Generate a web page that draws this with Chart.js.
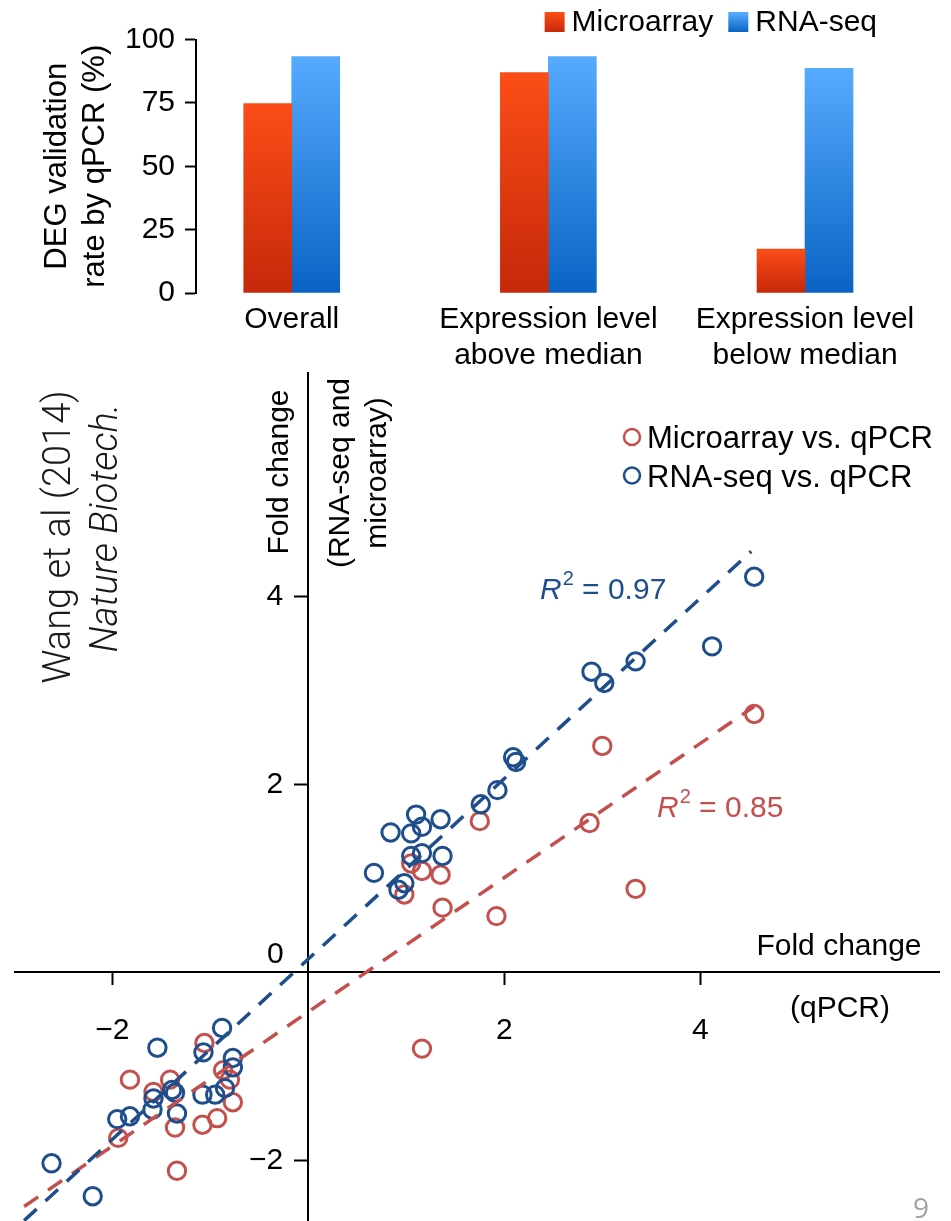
<!DOCTYPE html>
<html>
<head>
<meta charset="utf-8">
<title>DEG validation</title>
<script src="https://cdn.jsdelivr.net/npm/chart.js@4.4.1/dist/chart.umd.min.js"></script>
<style>
  html, body { margin: 0; padding: 0; background: #ffffff; }
  #wrap { position: relative; width: 951px; height: 1221px; overflow: hidden; background: #fff; }
  #wrap canvas { position: absolute; left: 0; top: 0; }
</style>
</head>
<body>
<div id="wrap">
  <canvas id="scatterChart" width="951" height="1221"></canvas>
  <canvas id="barChart" width="951" height="372"></canvas>
</div>
<script>
// ---------------- data: top bar chart ----------------
const barCategories = [['Overall'], ['Expression level', 'above median'], ['Expression level', 'below median']];
const barSeriesNames = ['Microarray', 'RNA-seq'];
const microarrayRate = [74.7, 87.0, 17.3];
const rnaSeqRate = [93.3, 93.3, 88.6];
const rateTicks = [0, 25, 50, 75, 100];

// ---------------- data: scatter ----------------
const scatterSeriesNames = ['Microarray vs. qPCR', 'RNA-seq vs. qPCR'];
const rnaSeqQpcr = [4.55, 4.12, 3.34, 2.89, 3.02, 2.09, 2.12, 1.93, 1.76, 1.35, 1.10, 1.16, 1.05, 0.84, 1.37, 1.16, 1.05, 0.67, 0.98, 0.92,
  -0.88, -1.54, -1.07, -0.77, -0.77, -1.39, -1.36, -1.58, -1.59, -1.34, -1.08, -0.95, -0.85, -1.82, -1.95, -2.62, -2.20];
const rnaSeqFold = [4.21, 3.47, 3.31, 3.20, 3.08, 2.29, 2.24, 1.94, 1.79, 1.63, 1.68, 1.55, 1.48, 1.49, 1.24, 1.27, 1.24, 1.06, 0.95, 0.88,
  -0.59, -0.80, -0.85, -0.91, -1.01, -1.25, -1.28, -1.34, -1.46, -1.50, -1.30, -1.30, -1.23, -1.53, -1.56, -2.03, -2.38];
const microarrayQpcr = [4.55, 3.00, 2.87, 3.34, 1.75, 1.92, 1.37, 1.35, 1.16, 1.05, 0.98, 1.16,
  -1.06, -1.82, -1.41, -1.58, -0.87, -0.80, -0.77, -0.93, -1.08, -1.36, -1.94, -1.34];
const microarrayFold = [2.75, 2.41, 1.59, 0.89, 1.61, 0.60, 0.69, 1.04, 1.08, 1.16, 0.83, -0.81,
  -0.75, -1.14, -1.14, -1.27, -1.04, -1.14, -1.38, -1.55, -1.62, -1.65, -1.76, -2.11];
const rnaSeqFitX = [-2.9, 4.52];
const rnaSeqFitY = [-2.64, 4.48];
const microarrayFitX = [-2.9, 4.55];
const microarrayFitY = [-2.49, 2.83];
const rSquared = [0.85, 0.97]; // microarray, RNA-seq
const foldTicksX = [-2, 2, 4];
const foldTicksY = [-2, 2, 4];

// ---------------- styles ----------------
const FONT = '"Liberation Sans", Arial, Helvetica, sans-serif';
const BLUE = '#1f4e8c';
const RED = '#c4504d';
const BAR_COLORS = [['#fc4d17', '#c5280a'], ['#56abff', '#0a63c4']];

const fmt = v => (v < 0 ? '\u2212' + Math.abs(v) : String(v));

function barGradient(pair) {
  return (c) => {
    const chart = c.chart;
    const ys = chart.scales && chart.scales.y;
    if (!ys || c.type !== 'data' || !c.parsed) return pair[1];
    const yTop = ys.getPixelForValue(c.parsed.y);
    const yBot = ys.getPixelForValue(0);
    if (!isFinite(yTop) || !isFinite(yBot) || Math.abs(yBot - yTop) < 1) return pair[1];
    const g = chart.ctx.createLinearGradient(0, yTop, 0, yBot);
    g.addColorStop(0, pair[0]);
    g.addColorStop(1, pair[1]);
    return g;
  };
}

// legend for bar chart (drawn with dataset labels)
const barLegend = {
  id: 'barLegend',
  afterDraw(chart) {
    const ctx = chart.ctx;
    ctx.save();
    ctx.font = '30px ' + FONT;
    ctx.textBaseline = 'alphabetic';
    ctx.textAlign = 'left';
    const box = 20, gapText = 7, gapItem = 15, right = 877;
    const items = chart.data.datasets.map((ds, i) => ({ label: ds.label, colors: BAR_COLORS[i], w: ctx.measureText(ds.label).width }));
    let total = 0;
    items.forEach((it, i) => { total += box + gapText + it.w + (i ? gapItem : 0); });
    let x = right - total;
    items.forEach(it => {
      const g = ctx.createLinearGradient(0, 13, 0, 32);
      g.addColorStop(0, it.colors[0]);
      g.addColorStop(1, it.colors[1]);
      ctx.fillStyle = g;
      ctx.fillRect(x, 12, box, 20);
      ctx.fillStyle = '#000';
      ctx.fillText(it.label, x + box + gapText, 31);
      x += box + gapText + it.w + gapItem;
    });
    ctx.restore();
  }
};

new Chart(document.getElementById('barChart'), {
  type: 'bar',
  data: {
    datasets: [
      { label: barSeriesNames[0], data: microarrayRate.map((v, i) => ({ x: i, y: v })), backgroundColor: barGradient(BAR_COLORS[0]) },
      { label: barSeriesNames[1], data: rnaSeqRate.map((v, i) => ({ x: i, y: v })), backgroundColor: barGradient(BAR_COLORS[1]) }
    ]
  },
  options: {
    responsive: false,
    animation: false,
    devicePixelRatio: 1,
    events: [],
    barThickness: 48,
    borderWidth: 0,
    layout: { autoPadding: false, padding: { left: 0, right: 11, top: 39.5, bottom: 0 } },
    plugins: { legend: { display: false }, tooltip: { enabled: false } },
    scales: {
      x: {
        type: 'linear',
        min: -0.373,
        max: 2.526,
        offset: false,
        afterBuildTicks: s => { s.ticks = barCategories.map((_, i) => ({ value: i })); },
        afterFit: s => { s.height = 79; },
        grid: { display: false, drawTicks: false },
        border: { display: false },
        ticks: {
          autoSkip: false, maxRotation: 0, padding: 9, color: '#000',
          font: { family: FONT, size: 30, lineHeight: 1.2 },
          callback: v => barCategories[v] || ''
        }
      },
      y: {
        min: 0,
        max: 100,
        afterBuildTicks: s => { s.ticks = rateTicks.map(v => ({ value: v })); },
        afterFit: s => { s.width = 196; },
        grid: { display: true, drawOnChartArea: false, drawTicks: true, tickLength: 11, tickWidth: 2, tickColor: '#000' },
        border: { display: true, color: '#000', width: 2 },
        ticks: { padding: 10, color: '#000', font: { family: FONT, size: 30 } },
        title: {
          display: true,
          text: ['DEG validation', 'rate by qPCR (%)'],
          color: '#000',
          font: { family: FONT, size: 31, lineHeight: 1.23 },
          padding: { top: 38, bottom: 0 }
        }
      }
    }
  },
  plugins: [barLegend]
});

// ---------------- scatter decorations ----------------
function rotText(ctx, text, cx, cy) {
  ctx.save();
  ctx.translate(cx, cy);
  ctx.rotate(-Math.PI / 2);
  ctx.fillText(text, 0, 0);
  ctx.restore();
}
function drawR2(ctx, px, py, val, color) {
  ctx.fillStyle = color;
  ctx.textAlign = 'left';
  ctx.textBaseline = 'alphabetic';
  ctx.font = 'italic 30px ' + FONT;
  ctx.fillText('R', px, py);
  const w = ctx.measureText('R').width;
  ctx.font = '20px ' + FONT;
  ctx.fillText('2', px + w + 1, py - 14);
  const w2 = ctx.measureText('2').width;
  ctx.font = '30px ' + FONT;
  ctx.fillText(' = ' + val.toFixed(2), px + w + 1 + w2, py);
}

const scatterDecor = {
  id: 'scatterDecor',
  afterDraw(chart) {
    const { ctx, scales: { x, y } } = chart;
    const ox = x.getPixelForValue(0), oy = y.getPixelForValue(0);
    ctx.save();
    ctx.fillStyle = '#000';
    ctx.font = '30px ' + FONT;

    // y tick labels (left of the vertical axis)
    ctx.textAlign = 'right';
    ctx.textBaseline = 'middle';
    y.ticks.forEach(t => ctx.fillText(fmt(t.value), ox - 25, y.getPixelForValue(t.value)));
    // zero label
    ctx.textAlign = 'center';
    ctx.textBaseline = 'alphabetic';
    ctx.fillText('0', ox - 33, oy - 9.5);

    // y axis title (straddling the axis)
    rotText(ctx, 'Fold change', ox - 20, 472);
    rotText(ctx, '(RNA-seq and', ox + 41, 473);
    rotText(ctx, 'microarray)', ox + 78, 473);

    // x axis title (straddling the axis)
    ctx.fillText('Fold change', x.right - 100, oy - 17.5);
    ctx.fillText('(qPCR)', x.right - 99, oy + 45);

    // R^2 labels
    drawR2(ctx, x.getPixelForValue(2.364), y.getPixelForValue(3.973), rSquared[1], BLUE);
    drawR2(ctx, x.getPixelForValue(3.558), y.getPixelForValue(1.654), rSquared[0], RED);

    // legend
    const legendColors = [RED, BLUE];
    ctx.font = '31px ' + FONT;
    ctx.textAlign = 'left';
    scatterSeriesNames.forEach((name, i) => {
      const cy = 437 + i * 38.5;
      ctx.beginPath();
      ctx.arc(632, cy, 8, 0, Math.PI * 2);
      ctx.lineWidth = 2.5;
      ctx.strokeStyle = legendColors[i];
      ctx.stroke();
      ctx.fillStyle = '#000';
      ctx.fillText(name, 647, cy + 11);
    });

    // citation
    ctx.fillStyle = '#1a1a1a';
    ctx.textAlign = 'center';
    ctx.font = '300 38px Roboto, "Open Sans", Lato, sans-serif';
    rotText(ctx, 'Wang et al (2014)', 70, 537);
    ctx.font = 'italic 300 38px Roboto, "Open Sans", Lato, sans-serif';
    rotText(ctx, 'Nature Biotech.', 117, 528);

    // page number
    ctx.fillStyle = '#a3a3a3';
    ctx.textAlign = 'left';
    ctx.font = '28px "Open Sans", sans-serif';
    ctx.fillText('9', 913, 1218);
    ctx.restore();
  }
};

const zeroFit = s => { s.paddingLeft = 0; s.paddingRight = 0; s.paddingTop = 0; s.paddingBottom = 0; };

new Chart(document.getElementById('scatterChart'), {
  type: 'scatter',
  data: {
    datasets: [
      { label: 'RNA-seq fit', data: rnaSeqFitX.map((v, i) => ({ x: v, y: rnaSeqFitY[i] })), showLine: true,
        borderColor: BLUE, borderWidth: 3.5, borderDash: [17, 12], pointRadius: 0, fill: false },
      { label: 'Microarray fit', data: microarrayFitX.map((v, i) => ({ x: v, y: microarrayFitY[i] })), showLine: true,
        borderColor: RED, borderWidth: 3.5, borderDash: [17, 12], pointRadius: 0, fill: false },
      { label: scatterSeriesNames[1], data: rnaSeqQpcr.map((v, i) => ({ x: v, y: rnaSeqFold[i] })),
        borderColor: BLUE, backgroundColor: 'rgba(0,0,0,0)', pointRadius: 8.7, pointHoverRadius: 8.7, borderWidth: 3 },
      { label: scatterSeriesNames[0], data: microarrayQpcr.map((v, i) => ({ x: v, y: microarrayFold[i] })),
        borderColor: RED, backgroundColor: 'rgba(0,0,0,0)', pointRadius: 8.7, pointHoverRadius: 8.7, borderWidth: 3 }
    ]
  },
  options: {
    responsive: false,
    animation: false,
    devicePixelRatio: 1,
    events: [],
    layout: { autoPadding: false, padding: { left: 15, right: 12, top: 373, bottom: 0 } },
    plugins: { legend: { display: false }, tooltip: { enabled: false } },
    scales: {
      x: {
        type: 'linear',
        position: { y: 0 },
        min: -2.993,
        max: 6.436,
        afterBuildTicks: s => { s.ticks = foldTicksX.map(v => ({ value: v })); },
        afterFit: s => { s.height = 0; zeroFit(s); },
        grid: { display: true, drawOnChartArea: false, drawTicks: true, tickLength: 12, tickWidth: 2, tickColor: '#000' },
        border: { display: true, color: '#000', width: 2 },
        ticks: { autoSkip: false, maxRotation: 0, padding: 28, color: '#000',
          font: { family: FONT, size: 30, lineHeight: 1.2 }, callback: v => fmt(v) }
      },
      y: {
        type: 'linear',
        position: { x: 0 },
        min: -2.644,
        max: 6.378,
        afterBuildTicks: s => { s.ticks = foldTicksY.map(v => ({ value: v })); },
        afterFit: s => { s.width = 0; zeroFit(s); },
        grid: { display: true, drawOnChartArea: false, drawTicks: true, tickLength: 13, tickWidth: 2, tickColor: '#000' },
        border: { display: true, color: '#000', width: 2 },
        ticks: { display: false }
      }
    }
  },
  plugins: [scatterDecor]
});
</script>
</body>
</html>
